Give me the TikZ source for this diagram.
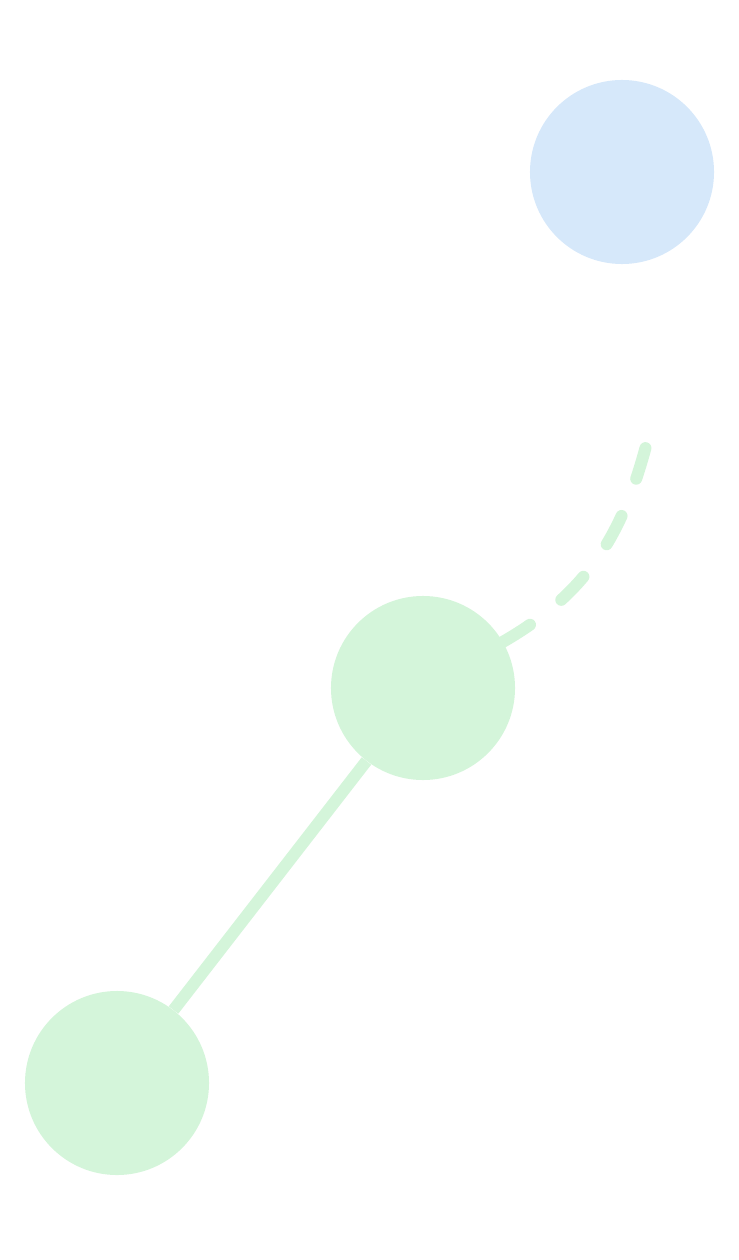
\documentclass[tikz,border=0pt]{standalone}
\usetikzlibrary{positioning}

\definecolor{paleblue}{RGB}{214,232,250}
\definecolor{palegreen}{RGB}{212,245,218}

\begin{document}
\begin{tikzpicture}[x=0.025cm, y=-0.025cm,
	vertex/.style={circle, minimum size=4.6cm, inner sep=0pt},
	link/.style={palegreen, line width=0.3cm}]

	\useasboundingbox (0,0) rectangle (738,1260);

	\node[vertex, fill=paleblue] (top) at (622,172) {};
	\node[vertex, fill=palegreen] (mid) at (423,688) {};
	\node[vertex, fill=palegreen] (low) at (117,1083) {};
	\coordinate (tip) at (646,446);

	\draw[link] (mid) -- (low);
	\draw[link, line cap=round, dash pattern=on 0.8cm off 1cm]
	(mid) to[out=30, in=-105] (tip);

\end{tikzpicture}
\end{document}
